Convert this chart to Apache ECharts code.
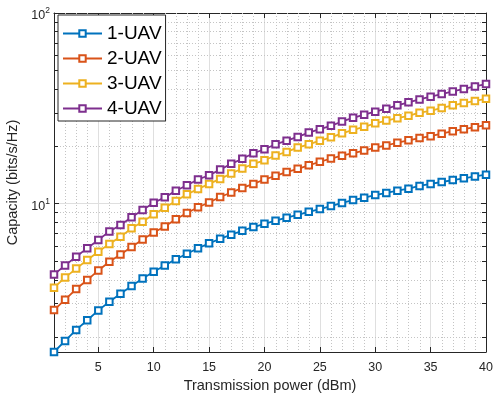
<!DOCTYPE html>
<html>
<head>
<meta charset="utf-8">
<script src="https://cdn.jsdelivr.net/npm/echarts@6/dist/echarts.min.js"></script>
<style>html,body{margin:0;padding:0;background:#fff}#c{width:495px;height:394px}</style>
</head>
<body>
<div id="c"></div>
<script>
const power = [1,2,3,4,5,6,7,8,9,10,11,12,13,14,15,16,17,18,19,20,21,22,23,24,25,26,27,28,29,30,31,32,33,34,35,36,37,38,39,40];
const uav1 = [1.67,1.91,2.18,2.45,2.76,3.06,3.37,3.70,4.06,4.40,4.75,5.12,5.47,5.84,6.20,6.55,6.88,7.22,7.55,7.85,8.15,8.45,8.75,9.07,9.38,9.72,10.1,10.45,10.75,11.1,11.4,11.7,12.0,12.4,12.7,13.0,13.3,13.6,13.9,14.2];
const uav2 = [2.77,3.14,3.57,3.98,4.47,4.96,5.42,5.93,6.49,7.06,7.60,8.30,8.95,9.58,10.15,10.85,11.45,12.1,12.7,13.4,14.0,14.65,15.25,15.9,16.6,17.25,17.85,18.4,19.0,19.7,20.2,20.9,21.5,22.1,22.6,23.3,24.0,24.6,25.2,25.8];
const uav3 = [3.63,4.10,4.57,5.07,5.60,6.16,6.71,7.43,8.05,8.80,9.53,10.33,11.2,11.95,12.7,13.5,14.4,15.3,16.2,16.9,17.9,18.7,19.7,20.5,21.4,22.3,23.4,24.4,25.3,26.4,27.3,28.1,28.9,30.0,30.7,31.8,32.8,33.7,34.6,35.5];
const uav4 = [4.26,4.75,5.27,5.85,6.45,7.16,7.73,8.49,9.27,10.12,10.8,11.7,12.5,13.4,14.1,15.1,16.2,17.2,18.4,19.3,20.5,21.4,22.4,23.6,24.6,25.6,27.0,28.2,29.3,30.4,31.5,32.8,34.0,35.2,36.4,37.6,38.8,40.0,41.2,42.4];
const seriesNames = ['1-UAV','2-UAV','3-UAV','4-UAV'];
const xTicks = [5,10,15,20,25,30,35,40];
const xMinor = [2,3,4,6,7,8,9,11,12,13,14,16,17,18,19,21,22,23,24,26,27,28,29,31,32,33,34,36,37,38,39];
const yMinor = [2,3,4,5,6,7,8,9,20,30,40,50,60,70,80,90];
const yMax = 100;
const xMin = power[0], xMax = power[power.length-1];
const yMin = Math.min(...uav1, ...uav2, ...uav3, ...uav4);

const colors = ['#0072BD','#D95319','#EDB120','#7E2F8E'];
const allData = [uav1, uav2, uav3, uav4];
const txt = '#262626';
const font = 'Liberation Sans, Arial, Helvetica, sans-serif';

const chart = echarts.init(document.getElementById('c'), null, {renderer:'canvas'});

const minorData = yMinor.map(v => [xMin, v, 0]).concat(xMinor.map(v => [v, 10, 1]));

function logLabel(v){
  const l = Math.log10(v);
  if (Math.abs(l - Math.round(l)) < 1e-6) return '{b|10}{s|' + Math.round(l) + '}';
  return '';
}

const lineSeries = allData.map((d, i) => ({
  name: seriesNames[i],
  type: 'line',
  data: power.map((p, j) => [p, d[j]]),
  symbol: 'emptyRect',
  symbolSize: 6.5,
  showAllSymbol: true,
  clip: false,
  z: 5,
  lineStyle: {color: colors[i], width: 1.8},
  itemStyle: {color: colors[i], borderWidth: 1.5, borderColor: colors[i]},
  emphasis: {disabled: true}
}));

chart.setOption({
  animation: false,
  color: colors,
  grid: {left: 54, right: 9, top: 13, bottom: 42, containLabel: false, outerBoundsMode: 'none'},
  legend: {
    data: seriesNames,
    orient: 'vertical',
    left: 58, top: 15,
    padding: [9, 4, 3, 4],
    itemWidth: 39, itemHeight: 8, itemGap: 6,
    backgroundColor: '#fff',
    borderColor: txt, borderWidth: 1,
    textStyle: {fontSize: 19, color: '#000', fontFamily: font},
    selectedMode: false
  },
  xAxis: [{
    type: 'value', min: xMin, max: xMax,
    name: 'Transmission power (dBm)', nameLocation: 'middle', nameGap: 25,
    nameTextStyle: {fontSize: 14.5, color: txt, fontFamily: font},
    axisLine: {lineStyle: {color: txt, width: 1}},
    axisTick: {show: true, inside: true, length: 5, customValues: xTicks, lineStyle: {color: txt}},
    axisLabel: {customValues: xTicks, margin: 9, fontSize: 12.5, color: txt, fontFamily: font},
    splitLine: {show: true, lineStyle: {color: '#dfdfdf', width: 1}}
  }, {
    type: 'value', min: xMin, max: xMax, position: 'top',
    axisLine: {lineStyle: {color: txt, width: 1}},
    axisTick: {show: true, inside: true, length: 5, customValues: xTicks, lineStyle: {color: txt}},
    axisLabel: {show: false},
    splitLine: {show: false}
  }],
  yAxis: [{
    type: 'log', logBase: 10, min: yMin, max: yMax,
    name: 'Capacity (bits/s/Hz)', nameLocation: 'middle', nameGap: 29, nameRotate: 90,
    nameTextStyle: {fontSize: 14.5, color: txt, fontFamily: font},
    axisLine: {show: true, lineStyle: {color: txt, width: 1}},
    axisTick: {show: true, inside: true, length: 5, lineStyle: {color: txt}},
    axisLabel: {
      formatter: logLabel, margin: 4, fontFamily: font,
      rich: {
        b: {fontSize: 12.5, color: txt, fontFamily: font, padding: [6, 0, 0, 0]},
        s: {fontSize: 8.5, color: txt, fontFamily: font, padding: [0, 0, 4, 0]}
      }
    },
    splitLine: {show: true, lineStyle: {color: '#dfdfdf', width: 1}}
  }, {
    type: 'log', logBase: 10, min: yMin, max: yMax, position: 'right',
    axisLine: {show: true, lineStyle: {color: txt, width: 1}},
    axisTick: {show: true, inside: true, length: 5, lineStyle: {color: txt}},
    axisLabel: {show: false},
    splitLine: {show: false}
  }],
  series: [{
    type: 'custom',
    name: 'minor',
    data: minorData,
    encode: {x: 0, y: 1},
    z: 1,
    silent: true,
    clip: false,
    renderItem: function(params, api){
      const cs = params.coordSys;
      const kind = api.value(2);
      const pt = api.coord([api.value(0), api.value(1)]);
      const dot = {stroke: '#c4c4c4', lineWidth: 1, lineDash: [1, 2]};
      if (kind === 0) {
        const y = Math.round(pt[1]) + 0.5;
        return {type: 'group', children: [
          {type: 'line', shape: {x1: cs.x, y1: y, x2: cs.x + cs.width, y2: y}, style: dot, silent: true},
          {type: 'line', shape: {x1: cs.x, y1: y, x2: cs.x + 4, y2: y}, style: {stroke: txt, lineWidth: 1}, silent: true},
          {type: 'line', shape: {x1: cs.x + cs.width - 4, y1: y, x2: cs.x + cs.width, y2: y}, style: {stroke: txt, lineWidth: 1}, silent: true}
        ]};
      } else {
        const x = Math.round(pt[0]) + 0.5;
        return {type: 'line', shape: {x1: x, y1: cs.y, x2: x, y2: cs.y + cs.height}, style: dot, silent: true};
      }
    }
  }].concat(lineSeries)
});
</script>
</body>
</html>
